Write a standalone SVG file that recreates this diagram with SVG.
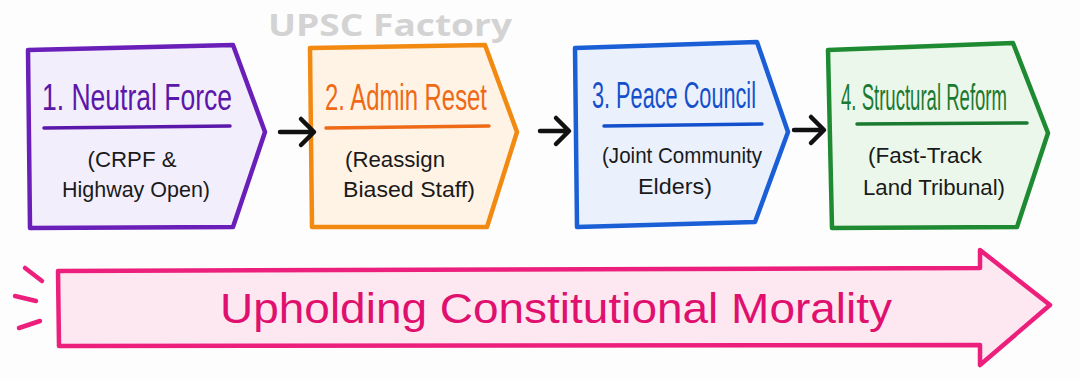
<svg xmlns="http://www.w3.org/2000/svg" width="1080" height="381" viewBox="0 0 1080 381">
<style>
.box{stroke-width:4.5;stroke-linejoin:round}
.title{font-family:"Liberation Sans","DejaVu Sans",sans-serif;font-size:36px}
.sub{font-family:"Liberation Sans","DejaVu Sans",sans-serif;font-size:22px;fill:#1a1a1a;text-anchor:middle}
.ul{stroke-width:3.5;stroke-linecap:round;fill:none}
.conn{stroke:#111;stroke-width:4.5;fill:none;stroke-linecap:round;stroke-linejoin:round}
</style>
<rect width="1080" height="381" fill="#fdfdfd"/>
<text x="390" y="36" text-anchor="middle" font-family="Open Sans, Liberation Sans, sans-serif" font-weight="bold" font-size="31" fill="#d3d3d3" textLength="244" lengthAdjust="spacingAndGlyphs">UPSC Factory</text>

<g id="node1">
<path class="box" d="M28,50 L233,45 L265,132 L233,227 L30,228 Z" fill="#f3eefc" stroke="#6a1fb8"/>
<text class="title" x="42" y="110" fill="#5a18aa" textLength="190" lengthAdjust="spacingAndGlyphs">1. Neutral Force</text>
<line class="ul" x1="44" y1="128" x2="230" y2="126" stroke="#5a18aa"/>
<text class="sub" x="132" y="167" textLength="89" lengthAdjust="spacingAndGlyphs">(CRPF &amp;</text>
<text class="sub" x="136" y="197" textLength="148" lengthAdjust="spacingAndGlyphs">Highway Open)</text>
</g>

<g id="node2">
<path class="box" d="M310,48 L485,45 L517,132 L487,227 L312,227 Z" fill="#fff3e6" stroke="#f28a12"/>
<text class="title" x="325" y="110" fill="#ee6a16" textLength="162" lengthAdjust="spacingAndGlyphs">2. Admin Reset</text>
<line class="ul" x1="326" y1="128" x2="489" y2="126" stroke="#ee6a16"/>
<text class="sub" x="395" y="167" textLength="100" lengthAdjust="spacingAndGlyphs">(Reassign</text>
<text class="sub" x="409" y="197" textLength="132" lengthAdjust="spacingAndGlyphs">Biased Staff)</text>
</g>

<g id="node3">
<path class="box" d="M575,48 L757,42 L788,132 L755,222 L577,227 Z" fill="#eaf1fc" stroke="#1a5fd6"/>
<text class="title" x="592" y="108" fill="#1550cc" textLength="164" lengthAdjust="spacingAndGlyphs">3. Peace Council</text>
<line class="ul" x1="604" y1="126" x2="762" y2="124" stroke="#1550cc"/>
<text class="sub" x="682" y="163" textLength="160" lengthAdjust="spacingAndGlyphs">(Joint Community</text>
<text class="sub" x="675" y="194" textLength="74" lengthAdjust="spacingAndGlyphs">Elders)</text>
</g>

<g id="node4">
<path class="box" d="M828,50 L1013,43 L1048,133 L1017,227 L832,228 Z" fill="#ebf7ea" stroke="#1e8a32"/>
<text class="title" x="841" y="110" fill="#1a7a30" font-size="32" textLength="166" lengthAdjust="spacingAndGlyphs">4. Structural Reform</text>
<line class="ul" x1="857" y1="124" x2="1027" y2="123" stroke="#1a7a30"/>
<text class="sub" x="925" y="163" textLength="114" lengthAdjust="spacingAndGlyphs">(Fast-Track</text>
<text class="sub" x="934" y="195" textLength="142" lengthAdjust="spacingAndGlyphs">Land Tribunal)</text>
</g>

<g id="connectors">
<path class="conn" d="M280,132 L313,132 M301,119 L314,132 L301,145"/>
<path class="conn" d="M540,131 L568,131 M556,118 L569,131 L556,144"/>
<path class="conn" d="M794,130 L823,130 M811,117 L824,130 L811,143"/>
</g>

<g id="banner">
<path d="M58,271 L980,268 L980,250 L1050,305 L980,365 L980,345 L59,346 Z" fill="#fde8f2" stroke="#ec1f7c" stroke-width="4.5" stroke-linejoin="round"/>
<g stroke="#ec1f7c" stroke-width="4.5" stroke-linecap="round">
<line x1="25" y1="268" x2="42" y2="281"/>
<line x1="15" y1="296" x2="36" y2="301"/>
<line x1="19" y1="328" x2="40" y2="321"/>
</g>
<text x="220" y="323" font-family="Liberation Sans, DejaVu Sans, sans-serif" font-size="42" fill="#e0106e" textLength="672" lengthAdjust="spacingAndGlyphs">Upholding Constitutional Morality</text>
</g>
</svg>
